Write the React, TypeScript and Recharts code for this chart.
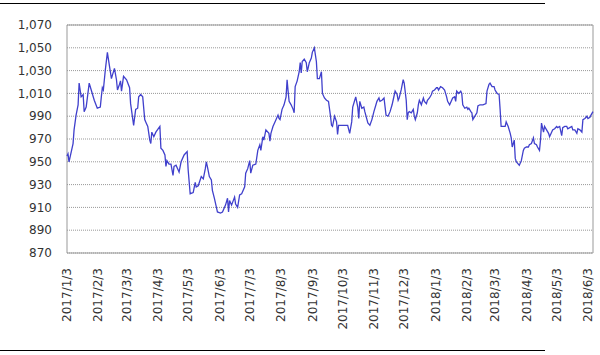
import { CartesianGrid, Line, LineChart, ReferenceArea, XAxis, YAxis } from 'recharts'

const START = Date.UTC(2017, 0, 3)
const DAY = 86400000

const tickLabels = [
  '2017/1/3', '2017/2/3', '2017/3/3', '2017/4/3', '2017/5/3', '2017/6/3',
  '2017/7/3', '2017/8/3', '2017/9/3', '2017/10/3', '2017/11/3', '2017/12/3',
  '2018/1/3', '2018/2/3', '2018/3/3', '2018/4/3', '2018/5/3', '2018/6/3',
]

const yTicks = [870, 890, 910, 930, 950, 970, 990, 1010, 1030, 1050, 1070]

// days since 2017/1/3
const days = [
  0, 1, 2, 6, 7, 9, 11, 12, 14, 16, 17, 19, 21, 22, 24, 27, 30, 33, 34, 35, 36, 38, 40, 41, 44, 45, 47, 49,
  50, 52, 53, 54, 56, 59, 62, 63, 66, 68, 70, 71, 73, 75, 77, 78, 80, 82, 83, 84, 86, 88, 92, 93, 95, 97, 98, 99,
  101, 103, 105, 106, 108, 110, 111, 113, 116, 119, 120, 122, 125, 127, 128, 130, 133, 135, 137, 138, 139, 141,
  143, 144, 146, 148, 149, 152, 154, 157, 159, 160, 161, 163, 166, 167, 169, 171, 173, 176, 177, 179, 181, 182,
  184, 187, 189, 191, 192, 194, 195, 197, 200, 201, 202, 204, 206, 209, 210, 211, 213, 215, 217, 218, 219, 220,
  222, 224, 225, 226, 228, 230, 231, 232, 233, 235, 237, 238, 240, 242, 243, 245, 247, 248, 250, 252, 253, 255,
  257, 259, 261, 262, 263, 265, 267, 268, 269, 270, 273, 277, 278, 280, 282, 283, 285, 286, 288, 289, 290, 292,
  294, 295, 298, 300, 302, 304, 306, 307, 309, 310, 312, 314, 316, 318, 320, 322, 323, 325, 327, 328, 329, 331,
  333, 334, 336, 337, 338, 339, 341, 343, 344, 345, 347, 348, 349, 351, 353, 354, 356, 357, 359, 361, 362, 364,
  366, 367, 368, 370, 372, 374, 376, 377, 379, 381, 382, 384, 385, 386, 388, 390, 391, 392, 394, 396, 397, 398,
  400, 401, 402, 404, 406, 407, 409, 412, 415, 416, 418, 419, 421, 423, 424, 426, 428, 429, 430, 432, 434, 435,
  437, 439, 440, 441, 443, 444, 445, 447, 448, 450, 452, 453, 455, 457, 458, 460, 462, 463, 465, 466, 468, 469,
  470, 472, 473, 475, 477, 478, 480, 481, 483, 485, 486, 488, 490, 491, 493, 495, 496, 498, 500, 501, 503, 505,
  506, 508, 510, 511, 513, 515, 516, 518, 519, 521,
]

const values = [
  955, 957, 950, 966, 978, 991, 1000, 1019, 1007, 1009, 994, 998, 1012, 1019, 1013, 1004, 997, 998, 1007, 1015,
  1013, 1031, 1046, 1040, 1023, 1026, 1032, 1022, 1013, 1018, 1021, 1012, 1025, 1022, 1015, 1001, 982, 996, 997,
  1007, 1009, 1007, 987, 985, 981, 969, 966, 976, 972, 976, 981, 962, 960, 956, 946, 951, 948, 948, 938, 946, 947,
  943, 941, 950, 956, 959, 943, 922, 923, 932, 928, 929, 937, 935, 944, 950, 946, 937, 934, 925, 918, 910, 906,
  905, 906, 912, 918, 906, 916, 912, 919, 913, 910, 921, 922, 928, 940, 944, 951, 940, 947, 948, 960, 965, 960,
  972, 969, 978, 975, 968, 975, 981, 985, 991, 988, 987, 996, 1000, 1007, 1022, 1012, 1003, 1000, 996, 993, 1016,
  1021, 1029, 1037, 1028, 1038, 1040, 1037, 1029, 1037, 1041, 1046, 1050, 1038, 1023, 1023, 1029, 1010, 1006,
  1004, 1003, 990, 982, 981, 990, 985, 974, 982, 982, 982, 982, 982, 975, 985, 998, 1004, 1007, 998, 988, 1003,
  997, 998, 994, 984, 982, 987, 994, 1000, 1003, 1006, 1003, 1004, 1006, 991, 990, 994, 1000, 1004, 1012, 1009,
  1004, 1006, 1013, 1022, 1019, 1004, 987, 993, 994, 993, 996, 990, 987, 993, 1000, 1004, 1000, 1006, 1003, 1001,
  1004, 1006, 1009, 1012, 1013, 1015, 1015, 1013, 1016, 1015, 1013, 1007, 1003, 1000, 1004, 1006, 1007, 1003,
  1012, 1010, 1012, 1010, 1000, 997, 998, 996, 997, 994, 993, 987, 990, 993, 999, 1000, 1000, 1001, 1012, 1018,
  1019, 1016, 1016, 1013, 1010, 1009, 996, 981, 981, 981, 985, 981, 975, 971, 963, 969, 953, 950, 948, 947, 951,
  960, 962, 963, 963, 965, 966, 971, 966, 965, 963, 960, 969, 984, 976, 981, 978, 975, 972, 976, 978, 979, 981,
  980, 981, 973, 980, 981, 981, 979, 980, 981, 978, 978, 975, 979, 978, 976, 987, 988, 990, 988, 989, 991, 994,
]

const toDay = (label: string) => {
  const [y, m, d] = label.split('/').map(Number)
  return Math.round((Date.UTC(y, m - 1, d) - START) / DAY)
}

const xTicks = tickLabels.map(toDay)
const data = days.map((day, i) => ({ day, value: values[i] }))

const textColor = '#333'
const font = '"DejaVu Sans", Verdana, sans-serif'

function DateTick({ x, y, payload }: any) {
  const label = tickLabels[xTicks.indexOf(payload.value)]
  return (
    <text
      x={x}
      y={y}
      transform={`rotate(-90 ${x} ${y})`}
      textAnchor="end"
      dy="0.35em"
      fill={textColor}
      fontSize={12}
      fontFamily={font}
    >
      {label}
    </text>
  )
}

export default function App() {
  return (
    <div style={{ position: 'absolute', left: 0, top: 0, width: 600, height: 355, background: '#fff' }}>
      <div style={{ position: 'absolute', left: 0, top: 3, width: 545, height: 1, background: '#000' }} />
      <LineChart
        width={600}
        height={355}
        data={data}
        margin={{ top: 25, right: 7, left: 0, bottom: 0 }}
      >
        <CartesianGrid vertical={false} stroke="#999" strokeDasharray="1 1" />
        <XAxis
          dataKey="day"
          type="number"
          domain={[0, 521]}
          ticks={xTicks}
          interval={0}
          height={102}
          axisLine={false}
          tickLine={false}
          tickSize={0}
          tickMargin={15}
          tick={<DateTick />}
        />
        <YAxis
          domain={[870, 1070]}
          ticks={yTicks}
          interval={0}
          width={67}
          axisLine={false}
          tickLine={false}
          tickSize={0}
          tickMargin={15}
          tickFormatter={(v: number) => v.toLocaleString('en-US')}
          tick={{ fill: textColor, fontSize: 12, fontFamily: font }}
        />
        <ReferenceArea x1={0} x2={521} y1={870} y2={1070} fill="none" stroke="#999" strokeWidth={1} />
        <Line
          type="linear"
          dataKey="value"
          stroke="#4040cc"
          strokeWidth={1.3}
          dot={false}
          isAnimationActive={false}
        />
      </LineChart>
      <div style={{ position: 'absolute', left: 0, top: 350, width: 545, height: 1, background: '#000' }} />
    </div>
  )
}
